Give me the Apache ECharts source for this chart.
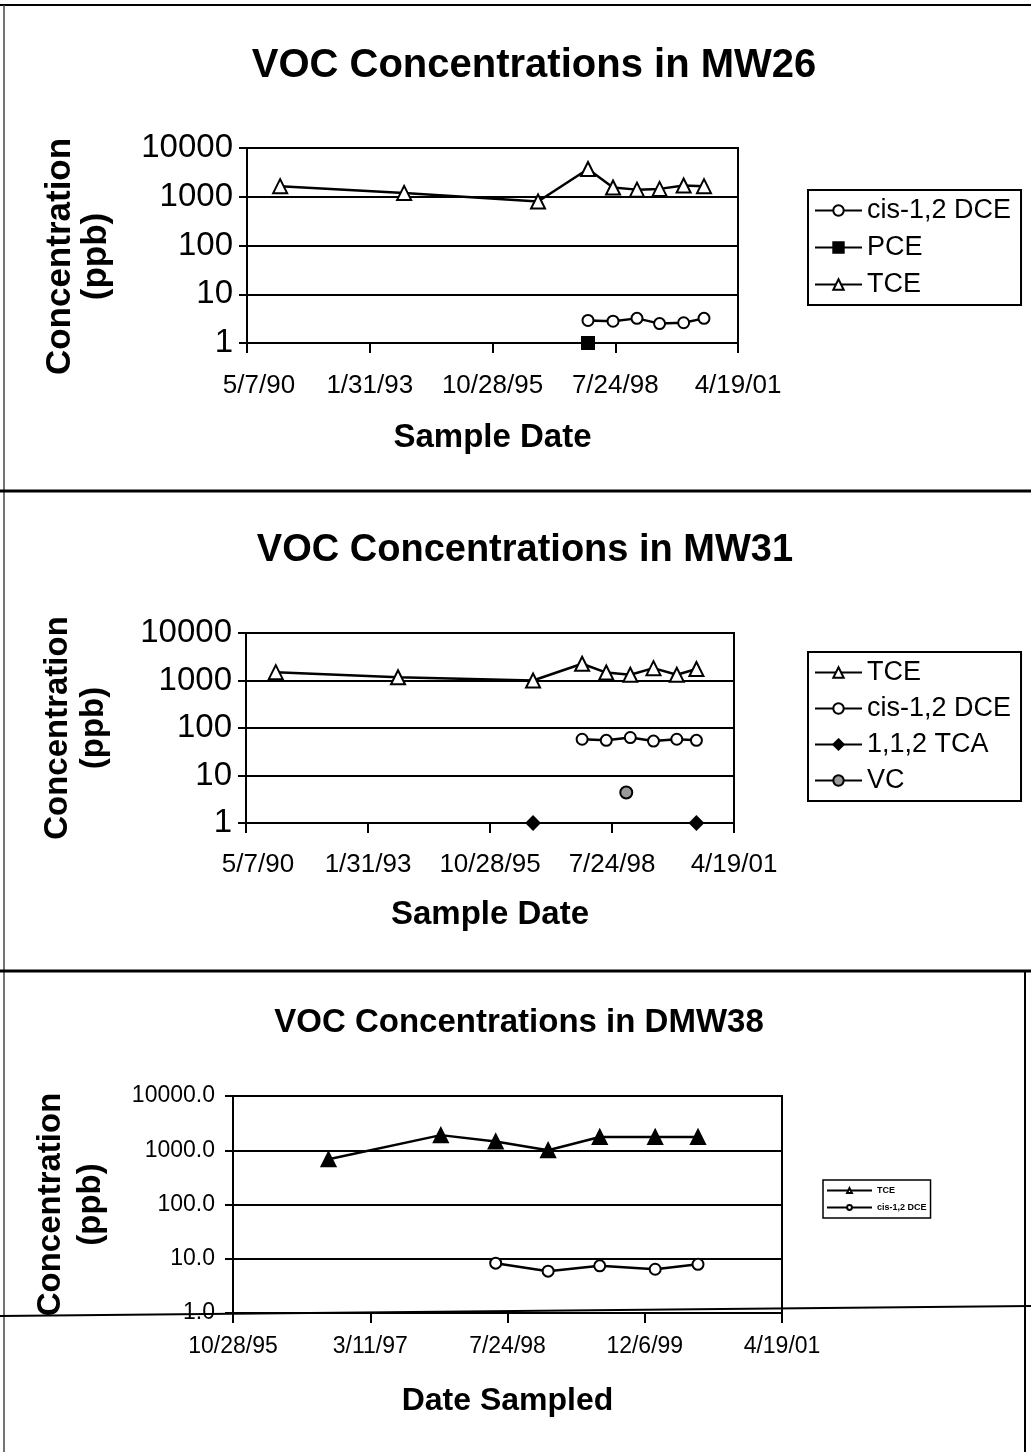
<!DOCTYPE html>
<html>
<head>
<meta charset="utf-8">
<script src="https://cdn.jsdelivr.net/npm/echarts@6/dist/echarts.min.js"></script>
<style>
html,body{margin:0;padding:0;background:#fff;}
#chart{width:1031px;height:1452px;}
</style>
</head>
<body>
<div id="chart"></div>
<script>
// ---------- DATA ----------
// Y tick values (log axis) shared by all charts
const yTicks = [1, 10, 100, 1000, 10000];

// MW26
const mw26XTicks = ['5/7/90', '1/31/93', '10/28/95', '7/24/98', '4/19/01'];
const mw26Dates = ['1991-02-01', '1993-11-07', '1996-11-02', '1997-12-14', '1998-07-06', '1999-01-17', '1999-07-20', '2000-02-01', '2000-07-16'];
const mw26DCE = [null, null, null, 2.9, 2.8, 3.2, 2.5, 2.6, 3.2];
const mw26PCE = [null, null, null, 1, null, null, null, null, null];
const mw26TCE = [1650, 1200, 800, 3700, 1550, 1400, 1450, 1700, 1650];

// MW31
const mw31XTicks = ['5/7/90', '1/31/93', '10/28/95', '7/24/98', '4/19/01'];
const mw31Dates = ['1991-01-06', '1993-10-04', '1996-10-15', '1997-11-21', '1998-06-07', '1998-12-21', '1999-06-29', '2000-01-06', '2000-06-15'];
const mw31TCE = [1500, 1170, 1000, 2250, 1470, 1320, 1820, 1320, 1750];
const mw31DCE = [null, null, null, 58, 55, 63, 53, 58, 55];
const mw31TCA = [null, null, 1, null, null, null, null, null, 1];
const mw31VCDates = ['1998-11-18'];
const mw31VC = [4.4];

// DMW38
const dmw38XTicks = ['10/28/95', '3/11/97', '7/24/98', '12/6/99', '4/19/01'];
const dmw38Dates = ['1996-10-10', '1997-11-23', '1998-06-11', '1998-12-19', '1999-06-25', '2000-01-13', '2000-06-17'];
const dmw38TCE = [680, 1900, 1450, 1000, 1750, 1750, 1750];
const dmw38DCE = [null, null, 8.3, 5.9, 7.4, 6.4, 7.9];

// ---------- HELPERS ----------
const FONT = '"Liberation Sans", Arial, sans-serif';
function mdy(s) {
  const p = s.split('/').map(Number);
  const y = p[2] < 50 ? 2000 + p[2] : 1900 + p[2];
  return Date.UTC(y, p[0] - 1, p[1]);
}
function iso(s) { return Date.parse(s + 'T00:00:00Z'); }
function fmtDate(v) {
  const d = new Date(v);
  return (d.getUTCMonth() + 1) + '/' + d.getUTCDate() + '/' + String(d.getUTCFullYear()).slice(2);
}
function pts(dates, vals) {
  return dates.map((d, i) => [iso(d), vals[i] == null ? '-' : vals[i]]);
}
function xAxisFor(gi, ticks, o) {
  const min = mdy(ticks[0]);
  const max = mdy(ticks[ticks.length - 1]);
  const interval = mdy(ticks[1]) - min;
  return {
    type: 'value', gridIndex: gi, min: min, max: max, interval: interval,
    axisLine: { lineStyle: { color: '#000', width: 2 } },
    axisTick: { show: true, length: 10, lineStyle: { color: '#000', width: 2 } },
    axisLabel: {
      formatter: function (v, idx) {
        const s = fmtDate(v);
        return (o.shiftFirst && idx === 0) ? '{first|' + s + '}' : s;
      },
      rich: { first: { fontSize: o.fs, color: '#000', fontFamily: FONT, padding: [0, 0, 0, o.shiftFirst || 0] } },
      fontSize: o.fs, color: '#000', margin: o.margin, fontFamily: FONT, showMinLabel: true, showMaxLabel: true
    },
    splitLine: { show: false },
    name: o.name, nameLocation: 'middle', nameGap: o.nameGap,
    nameTextStyle: { fontSize: o.nameFs, fontWeight: 'bold', color: '#000', fontFamily: FONT }
  };
}
function yAxisFor(gi, o) {
  return {
    type: 'log', logBase: 10, gridIndex: gi, min: yTicks[0], max: yTicks[yTicks.length - 1],
    axisLine: { show: true, lineStyle: { color: '#000', width: 2 } },
    axisTick: { show: true, length: 8, lineStyle: { color: '#000', width: 2 } },
    axisLabel: { fontSize: o.fs, color: '#000', margin: o.margin, fontFamily: FONT,
      formatter: o.fixed ? (v => Number(v).toFixed(1)) : (v => String(v)) },
    splitLine: { show: true, lineStyle: { color: '#000', width: 2 } },
    name: 'Concentration\n(ppb)', nameLocation: 'middle', nameGap: o.nameGap, nameRotate: 90,
    nameTextStyle: { fontSize: o.nameFs, fontWeight: 'bold', color: '#000', fontFamily: FONT, lineHeight: o.lh, align: 'center', padding: o.pad || 0 }
  };
}
const BLK = '#000';
const lineS = { color: BLK, width: 2.5 };
function ser(name, gi, data, symbol, size, fill, extra) {
  return Object.assign({
    type: 'line', name: name, xAxisIndex: gi, yAxisIndex: gi, data: data,
    symbol: symbol, symbolSize: size, showSymbol: true, connectNulls: false,
    lineStyle: lineS,
    itemStyle: { color: fill, borderColor: BLK, borderWidth: 2 },
    emphasis: { disabled: true }, animation: false, z: 3
  }, extra || {});
}

// ---------- CHART ----------
const chart = echarts.init(document.getElementById('chart'), null, { renderer: 'canvas' });

const titleStyle = (fs) => ({ fontSize: fs, fontWeight: 'bold', color: '#000', fontFamily: FONT });

const option = {
  backgroundColor: '#fff',
  animation: false,
  title: [
    { text: 'VOC Concentrations in MW26', left: 529, top: 41, textAlign: 'center', textStyle: titleStyle(40) },
    { text: 'VOC Concentrations in MW31', left: 520, top: 527, textAlign: 'center', textStyle: titleStyle(38) },
    { text: 'VOC Concentrations in DMW38', left: 514, top: 1001, textAlign: 'center', textStyle: titleStyle(33) }
  ],
  grid: [
    { left: 247, top: 148, width: 491, height: 195, show: true, borderColor: BLK, borderWidth: 2, backgroundColor: 'transparent' },
    { left: 246, top: 633, width: 488, height: 190, show: true, borderColor: BLK, borderWidth: 2, backgroundColor: 'transparent' },
    { left: 233, top: 1096, width: 549, height: 217, show: true, borderColor: BLK, borderWidth: 2, backgroundColor: 'transparent' }
  ],
  xAxis: [
    xAxisFor(0, mw26XTicks, { fs: 26, margin: 30, name: 'Sample Date', nameGap: 78, nameFs: 33, shiftFirst: 24 }),
    xAxisFor(1, mw31XTicks, { fs: 26, margin: 29, name: 'Sample Date', nameGap: 75, nameFs: 33, shiftFirst: 24 }),
    xAxisFor(2, dmw38XTicks, { fs: 23, margin: 22, name: 'Date Sampled', nameGap: 72, nameFs: 32 })
  ],
  yAxis: [
    yAxisFor(0, { fs: 33, margin: 14, nameGap: 133, nameFs: 35, lh: 36, pad: [0, 22, 0, 0] }),
    yAxisFor(1, { fs: 33, margin: 14, nameGap: 134, nameFs: 33, lh: 36 }),
    yAxisFor(2, { fs: 23, margin: 18, nameGap: 122, nameFs: 33, lh: 40, fixed: true })
  ],
  legend: [
    { orient: 'vertical', left: 808, top: 190, padding: [7, 10, 7, 6], itemGap: 10, itemWidth: 47, itemHeight: 13,
      borderColor: BLK, borderWidth: 2, backgroundColor: '#fff',
      textStyle: { fontSize: 27, color: '#000', fontFamily: FONT },
      data: ['cis-1,2 DCE', 'PCE', 'TCE'] },
    { orient: 'vertical', left: 808, top: 652, padding: [7, 10, 7, 6], itemGap: 9, itemWidth: 47, itemHeight: 13,
      borderColor: BLK, borderWidth: 2, backgroundColor: '#fff',
      textStyle: { fontSize: 27, color: '#000', fontFamily: FONT },
      data: ['TCE', 'cis-1,2 DCE', '1,1,2 TCA', 'VC'] },
    { orient: 'vertical', left: 823, top: 1180, padding: [6, 4, 6, 3], itemGap: 8, itemWidth: 45, itemHeight: 6,
      borderColor: BLK, borderWidth: 1.5, backgroundColor: '#fff',
      textStyle: { fontSize: 9, color: '#000', fontFamily: FONT, fontWeight: 'bold' },
      data: ['TCE', 'cis-1,2 DCE'] }
  ],
  graphic: [
    { type: 'line', shape: { x1: 0, y1: 5, x2: 1031, y2: 5 }, style: { stroke: '#000', lineWidth: 2 }, z: 0 },
    { type: 'line', shape: { x1: 4, y1: 5, x2: 4, y2: 1452 }, style: { stroke: '#444', lineWidth: 1.5 }, z: 0 },
    { type: 'line', shape: { x1: 0, y1: 491, x2: 1031, y2: 491 }, style: { stroke: '#000', lineWidth: 3 }, z: 0 },
    { type: 'line', shape: { x1: 0, y1: 971, x2: 1031, y2: 971 }, style: { stroke: '#000', lineWidth: 3 }, z: 0 },
    { type: 'line', shape: { x1: 1025, y1: 971, x2: 1025, y2: 1452 }, style: { stroke: '#000', lineWidth: 2 }, z: 0 },
    { type: 'line', shape: { x1: 0, y1: 1316, x2: 1031, y2: 1306 }, style: { stroke: '#000', lineWidth: 2 }, z: 0 }
  ],
  series: [
    // MW26
    ser('cis-1,2 DCE', 0, pts(mw26Dates, mw26DCE), 'circle', 11, '#fff'),
    ser('PCE', 0, pts(mw26Dates, mw26PCE), 'rect', 12, '#000'),
    ser('TCE', 0, pts(mw26Dates, mw26TCE), 'triangle', 14, '#fff'),
    // MW31
    ser('TCE', 1, pts(mw31Dates, mw31TCE), 'triangle', 14, '#fff'),
    ser('cis-1,2 DCE', 1, pts(mw31Dates, mw31DCE), 'circle', 11, '#fff'),
    ser('1,1,2 TCA', 1, pts(mw31Dates, mw31TCA), 'diamond', 13, '#000'),
    ser('VC', 1, pts(mw31VCDates, mw31VC), 'circle', 12, '#999'),
    // DMW38
    ser('TCE', 2, pts(dmw38Dates, dmw38TCE), 'triangle', 14, '#000'),
    ser('cis-1,2 DCE', 2, pts(dmw38Dates, dmw38DCE), 'circle', 11, '#fff')
  ]
};
chart.setOption(option);
</script>
</body>
</html>
